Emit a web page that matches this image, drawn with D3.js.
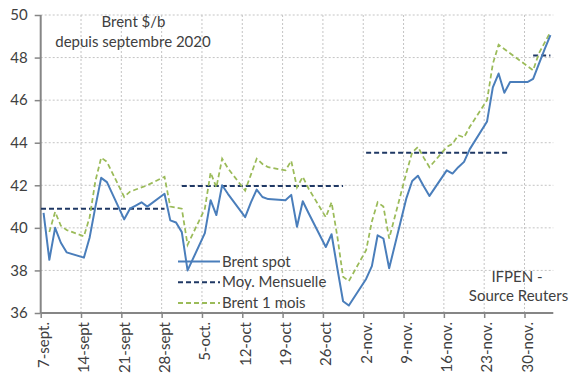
<!DOCTYPE html>
<html>
<head>
<meta charset="utf-8">
<script src="https://cdn.jsdelivr.net/npm/d3@7"></script>
<style>
  body { margin: 0; background: #fff; }
  text { font-family: Lato, "Open Sans", sans-serif; fill: #404040; }
</style>
</head>
<body>
<div id="graph"></div>
<script>

//Trading days shown on the chart
var dates = ["2020-09-07","2020-09-08","2020-09-09","2020-09-10","2020-09-11",
"2020-09-14","2020-09-15","2020-09-16","2020-09-17","2020-09-18",
"2020-09-21","2020-09-22","2020-09-23","2020-09-24","2020-09-25",
"2020-09-28","2020-09-29","2020-09-30","2020-10-01","2020-10-02",
"2020-10-05","2020-10-06","2020-10-07","2020-10-08","2020-10-09",
"2020-10-12","2020-10-13","2020-10-14","2020-10-15","2020-10-16",
"2020-10-19","2020-10-20","2020-10-21","2020-10-22","2020-10-23",
"2020-10-26","2020-10-27","2020-10-28","2020-10-29","2020-10-30",
"2020-11-02","2020-11-03","2020-11-04","2020-11-05","2020-11-06",
"2020-11-09","2020-11-10","2020-11-11","2020-11-12","2020-11-13",
"2020-11-16","2020-11-17","2020-11-18","2020-11-19","2020-11-20",
"2020-11-23","2020-11-24","2020-11-25","2020-11-26","2020-11-27",
"2020-11-30","2020-12-01","2020-12-02","2020-12-03","2020-12-04"];

//Brent spot ($/b)
var spot = [40.7, 38.5, 40.0, 39.3, 38.85,
38.6, 39.55, 41.0, 42.35, 42.15,
40.4, 40.9, 41.05, 41.2, 41.0,
41.6, 40.35, 40.25, 39.8, 38.0,
39.75, 41.3, 40.6, 42.0, 41.6,
40.5, 41.2, 41.8, 41.45, 41.35,
41.3, 41.55, 40.05, 41.25, 40.7,
39.1, 39.7, 38.1, 36.55, 36.35,
37.6, 38.2, 39.65, 39.5, 38.1,
41.4, 42.2, 42.45, 41.95, 41.5,
42.7, 42.55, 42.85, 43.1, 43.7,
45.0, 46.6, 47.25, 46.35, 46.85,
46.85, 47.0, 47.7, 48.4, 49.05];

//Brent 1 mois ($/b), null = no quote
var oneMonth = [null, 39.8, 40.75, 40.1, 39.9,
39.6, 40.5, 42.2, 43.3, 43.1,
41.45, 41.7, 41.8, 41.9, 42.0,
42.4, 41.0, 40.95, 40.9, 39.2,
40.9, 42.6, 41.9, 43.25, 42.8,
41.75, 42.5, 43.25, 43.0, 42.85,
42.7, 43.15, 41.9, 42.4, 41.85,
40.5, 41.2, 39.6, 37.7, 37.5,
38.95, 40.3, 41.2, 41.0, 39.5,
42.6, 43.55, 43.8, 43.3, 42.85,
43.8, 43.95, 44.35, 44.25, 44.75,
46.0, 47.7, 48.6, null, null,
null, 47.4, 48.2, 48.7, 49.2];

//Moyenne mensuelle: first day, last day, value
var avgStart = ["2020-09-01", "2020-10-01", "2020-11-02", "2020-12-01"];
var avgEnd = ["2020-09-28", "2020-10-29", "2020-11-27", "2020-12-04"];
var avgValue = [40.9, 41.97, 43.53, 48.1];

//Axis ticks
var tickDates = ["2020-09-07","2020-09-14","2020-09-21","2020-09-28","2020-10-05",
"2020-10-12","2020-10-19","2020-10-26","2020-11-02","2020-11-09",
"2020-11-16","2020-11-23","2020-11-30"];
var tickLabels = ["7-sept.","14-sept","21-sept","28-sept","5-oct.","12-oct","19-oct",
"26-oct","2-nov.","9-nov.","16-nov.","23-nov.","30-nov."];
var yTicks = [36, 38, 40, 42, 44, 46, 48, 50];

var width = 569, height = 374;
var plotL = 40.7, plotR = 553.3, plotT = 15, plotB = 313;

var parse = d3.utcParse("%Y-%m-%d");

var x = d3.scaleUtc()
    .domain([parse("2020-09-07"), parse("2020-12-05")])
    .range([plotL, plotR]);
var y = d3.scaleLinear().domain([36, 50]).range([plotB, plotT]);

//points sit in the middle of their day
function xday(s){
  return x(d3.utcHour.offset(parse(s), 12));
}

var svg = d3.select('#graph')
    .append('svg')
    .attr('width', width)
    .attr('height', height);

svg.append('clipPath').attr('id', 'plot')
  .append('rect')
    .attr('x', plotL).attr('y', plotT - 5)
    .attr('width', plotR - plotL).attr('height', plotB - plotT + 5);

//Grid
var grid = svg.append('g')
    .attr('stroke', '#c4c4c4')
    .attr('stroke-width', 1)
    .attr('stroke-dasharray', '2,2');

grid.selectAll('line.h')
  .data(yTicks.slice(1))
  .enter().append('line')
    .attr('x1', plotL).attr('x2', plotR)
    .attr('y1', function(d){ return y(d); })
    .attr('y2', function(d){ return y(d); });

grid.selectAll('line.v')
  .data(tickDates.slice(1))
  .enter().append('line')
    .attr('y1', plotT).attr('y2', plotB)
    .attr('x1', function(d){ return x(parse(d)); })
    .attr('x2', function(d){ return x(parse(d)); });

//Axes
var yAxis = svg.append('g')
    .attr('transform', 'translate(' + plotL + ',0)')
    .call(d3.axisLeft(y).tickValues(yTicks).tickSize(6).tickPadding(7));

var xAxis = svg.append('g')
    .attr('transform', 'translate(0,' + plotB + ')')
    .call(d3.axisBottom(x)
      .tickValues(tickDates.map(parse))
      .tickSize(5)
      .tickFormat(function(d, i){ return tickLabels[i]; }));

[yAxis, xAxis].forEach(function(ax){
  ax.select('.domain').attr('stroke', '#868686').attr('stroke-width', 2);
  ax.selectAll('.tick line').attr('stroke', '#868686').attr('stroke-width', 1.5);
  ax.selectAll('text')
    .attr('font-family', 'Lato, sans-serif')
    .attr('font-size', 15)
    .attr('fill', '#404040');
});

xAxis.select('.domain').attr('d', 'M' + plotL + ',0H' + plotR);
yAxis.select('.domain').attr('d', 'M0,' + plotB + 'V' + plotT);

xAxis.selectAll('text')
  .attr('text-anchor', 'end')
  .attr('dominant-baseline', 'middle')
  .attr('dy', null)
  .attr('y', 0)
  .attr('transform', 'translate(4,9) rotate(-90)');

//Series
var plot = svg.append('g').attr('clip-path', 'url(#plot)');

var avg = avgValue.map(function(v, i){ return [avgStart[i], avgEnd[i], v]; });
plot.selectAll('line.avg')
  .data(avg)
  .enter().append('line')
    .attr('x1', function(d){ return xday(d[0]); })
    .attr('x2', function(d){ return xday(d[1]); })
    .attr('y1', function(d){ return y(d[2]); })
    .attr('y2', function(d){ return y(d[2]); })
    .attr('stroke', '#1f3864')
    .attr('stroke-width', 2)
    .attr('stroke-dasharray', '5,3');

var line = d3.line()
    .x(function(d){ return xday(d[0]); })
    .y(function(d){ return y(d[1]); });

var monthPts = dates.map(function(d, i){ return [d, oneMonth[i]]; })
    .filter(function(d){ return d[1] !== null; });
var spotPts = dates.map(function(d, i){ return [d, spot[i]]; });

plot.append('path')
    .attr('d', line(monthPts))
    .attr('fill', 'none')
    .attr('stroke', '#9bbb59')
    .attr('stroke-width', 1.75)
    .attr('stroke-dasharray', '5,3');

plot.append('path')
    .attr('d', line(spotPts))
    .attr('fill', 'none')
    .attr('stroke', '#4a7ebb')
    .attr('stroke-width', 2)
    .attr('stroke-linejoin', 'round');

//Legend
var legend = [
  {name: 'Brent spot', color: '#4a7ebb', dash: null},
  {name: 'Moy. Mensuelle', color: '#1f3864', dash: '5,3'},
  {name: 'Brent 1 mois', color: '#9bbb59', dash: '5,3'}
];
var lg = svg.selectAll('g.legend')
  .data(legend)
  .enter().append('g')
    .attr('transform', function(d, i){ return 'translate(178,' + (261.5 + i * 20.8) + ')'; });
lg.append('line')
    .attr('x1', 0).attr('x2', 42)
    .attr('stroke', function(d){ return d.color; })
    .attr('stroke-width', 2)
    .attr('stroke-dasharray', function(d){ return d.dash; });
lg.append('text')
    .attr('x', 44).attr('y', 5)
    .attr('font-size', 15)
    .text(function(d){ return d.name; });

//Titles
svg.append('text')
    .attr('x', 133.5).attr('y', 27)
    .attr('text-anchor', 'middle').attr('font-size', 15)
    .text('Brent $/b');
svg.append('text')
    .attr('x', 133).attr('y', 47)
    .attr('text-anchor', 'middle').attr('font-size', 15)
    .text('depuis septembre 2020');

svg.append('text')
    .attr('x', 517).attr('y', 282)
    .attr('text-anchor', 'middle').attr('font-size', 15)
    .text('IFPEN -');
svg.append('text')
    .attr('x', 518.5).attr('y', 300.5)
    .attr('text-anchor', 'middle').attr('font-size', 15)
    .text('Source Reuters');

</script>
</body>
</html>
